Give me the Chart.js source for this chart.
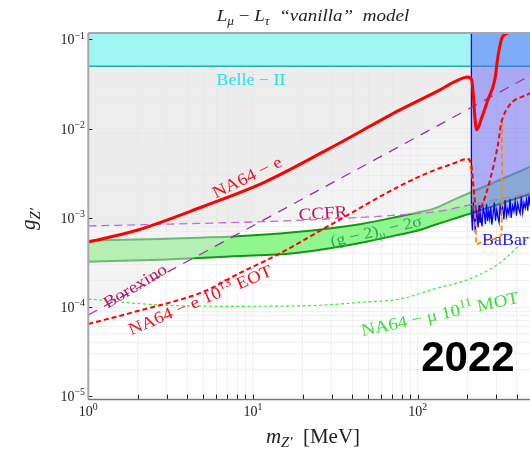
<!DOCTYPE html>
<html>
<head>
<meta charset="utf-8">
<script src="https://cdn.jsdelivr.net/npm/chart.js@4.4.0/dist/chart.umd.min.js"></script>
<style>
  html, body { margin: 0; padding: 0; background: #fff; }
  canvas { display: block; }
</style>
</head>
<body>
<canvas id="chart" width="530" height="460"></canvas>
<script>
// ---------- axis ranges and ticks ----------
const massRange = [1, 481];          // MeV
const couplingRange = [9.2e-6, 0.118];
const xMajorTicks = [1, 10, 100];
const xMajorExponents = ['0', '1', '2'];
const xMinorTicks = [2, 3, 4, 5, 6, 7, 8, 9, 20, 30, 40, 50, 60, 70, 80, 90, 200, 300, 400];
const yMajorTicks = [1e-5, 1e-4, 1e-3, 1e-2, 1e-1];
const yMajorExponents = ['\u22125', '\u22124', '\u22123', '\u22122', '\u22121'];
const yMinorTicks = [2e-5, 3e-5, 4e-5, 5e-5, 6e-5, 7e-5, 8e-5, 9e-5,
                     2e-4, 3e-4, 4e-4, 5e-4, 6e-4, 7e-4, 8e-4, 9e-4,
                     2e-3, 3e-3, 4e-3, 5e-3, 6e-3, 7e-3, 8e-3, 9e-3,
                     2e-2, 3e-2, 4e-2, 5e-2, 6e-2, 7e-2, 8e-2, 9e-2];

// ---------- limits and projections ----------
// NA64-e (solid)
const na64eMass     = [1, 2.0, 4.97, 11.8, 28.1, 78.1, 136.6, 168, 202, 212.8, 228, 244.7, 267, 294, 307, 325, 353, 390];
const na64eCoupling = [5.37e-4, 7.31e-4, 1.34e-3, 2.52e-3, 5.77e-3, 1.62e-2, 2.72e-2, 3.36e-2, 3.80e-2, 3.52e-2,
                       9.66e-3, 1.32e-2, 2.10e-2, 3.52e-2, 6.36e-2, 0.104, 0.118, 0.135];

// NA64-e 10^13 EOT projection (dashed)
const na64eEotMass     = [1, 2.0, 4.97, 8.34, 14.0, 28.1, 78.1, 118.8, 168, 199, 211, 218, 226, 232.5, 245.6, 275, 307, 325, 481];
const na64eEotCoupling = [6.47e-5, 9.04e-5, 1.48e-4, 2.41e-4, 3.84e-4, 7.91e-4, 2.28e-3, 3.27e-3, 4.12e-3, 4.57e-3,
                          4.12e-3, 2.28e-3, 1.23e-3, 1.11e-3, 1.36e-3, 2.66e-3, 6.56e-3, 1.25e-2, 2.51e-2];

// orange dashed contour near the dimuon threshold
const orangeMass     = [204.8, 216.7, 222.8, 227.6, 256.3, 307, 322.7, 325, 325];
const orangeCoupling = [4.69e-3, 2.66e-3, 1.08e-3, 4.97e-4, 5.65e-4, 5.8e-4, 6.43e-4, 1.59e-3, 1.25e-2];

// NA64-mu 10^11 MOT projection
const na64muMass     = [1, 2.61, 6.95, 19.3, 49.2, 78.1, 127.4, 207.8, 316, 418, 481];
const na64muCoupling = [1.23e-4, 1.06e-4, 1.02e-4, 1.03e-4, 1.14e-4, 1.23e-4, 1.6e-4, 2.07e-4, 3.12e-4, 4.97e-4, 6.1e-4];

// CCFR
const ccfrMass     = [1, 11.5, 29.3, 78.1, 136.6, 207.8, 481];
const ccfrCoupling = [8.11e-4, 9.06e-4, 9.72e-4, 1.08e-3, 1.19e-3, 1.40e-3, 1.90e-3];

// Borexino
const borexinoMass     = [1, 10, 100, 481];
const borexinoCoupling = [8.15e-5, 8.15e-4, 8.15e-3, 3.92e-2];

// (g-2)_mu 2 sigma band
const bandMass  = [1, 2.73, 4.77, 7.56, 17.6, 44.6, 78.1, 103, 123.8, 170, 213, 481];
const bandUpper = [5.55e-4, 5.8e-4, 6.0e-4, 6.18e-4, 6.9e-4, 8.5e-4, 1.04e-3, 1.16e-3, 1.26e-3, 1.63e-3, 1.95e-3, 3.72e-3];
const bandLower = [3.23e-4, 3.4e-4, 3.55e-4, 3.7e-4, 4.01e-4, 5.23e-4, 6.5e-4, 7.31e-4, 8.2e-4, 9.9e-4, 1.13e-3, 1.85e-3];

// Belle-II
const belleMass     = [1, 481];
const belleCoupling = [0.05, 0.05];

// BaBar
const babarMass = [212, 212, 215, 218, 221, 224, 227, 230, 233, 236, 239, 242, 246, 250, 254, 258, 262, 266, 270,
                   274, 278, 282, 287, 292, 297, 302, 307, 312, 317, 322, 328, 334, 340, 346, 352, 358, 364, 370,
                   377, 384, 391, 398, 405, 412, 419, 426, 434, 442, 450, 458, 466, 474, 482];
const babarCoupling = [0.2, 1.15e-3, 0.72e-3, 1.50e-3, 0.95e-3, 0.68e-3, 1.25e-3, 1.05e-3, 0.78e-3, 1.38e-3, 0.88e-3,
                       1.02e-3, 0.80e-3, 1.28e-3, 1.12e-3, 0.85e-3, 1.42e-3, 0.92e-3, 1.18e-3, 0.97e-3, 1.33e-3,
                       0.84e-3, 1.08e-3, 1.48e-3, 0.93e-3, 1.22e-3, 1.02e-3, 0.89e-3, 1.40e-3, 1.12e-3, 1.30e-3,
                       0.96e-3, 1.58e-3, 1.05e-3, 1.25e-3, 1.10e-3, 1.62e-3, 1.00e-3, 1.36e-3, 1.18e-3, 1.52e-3,
                       1.06e-3, 1.44e-3, 1.24e-3, 1.12e-3, 1.72e-3, 1.15e-3, 1.46e-3, 1.28e-3, 1.60e-3, 1.20e-3,
                       1.78e-3, 1.35e-3];

// ---------- text ----------
const SERIF = "'Liberation Serif','DejaVu Serif',serif";
const SANS = "'Liberation Sans','DejaVu Sans',sans-serif";
const titleParts = [
  { t: 'L', it: true }, { t: '\u03bc', it: true, sub: true }, { t: ' \u2212 ' },
  { t: 'L', it: true }, { t: '\u03c4', it: true, sub: true }, { t: '  \u201cvanilla\u201d  model', it: true }
];
const yTitleParts = [{ t: 'g', it: true }, { t: 'Z\u2032', it: true, sub: true }];
const xTitleParts = [{ t: 'm', it: true }, { t: 'Z\u2032', it: true, sub: true }, { t: '  [MeV]' }];
const yearText = '2022';

const curveLabels = [
  { parts: [{ t: 'Belle \u2212 II' }], m: 9.72, g: 0.0352, angle: 0, color: 'rgb(30,225,240)', size: 16 },
  { parts: [{ t: 'NA64 \u2212 e' }], m: 9.2, g: 2.87e-3, angle: -26, color: 'rgb(235,20,30)', size: 17 },
  { parts: [{ t: 'CCFR' }], m: 26.6, g: 1.135e-3, angle: -4, color: 'rgb(190,20,90)', size: 17 },
  { parts: [{ t: 'Borexino' }], m: 1.92, g: 1.73e-4, angle: -31, color: 'rgb(190,20,90)', size: 17 },
  { parts: [{ t: '(g \u2212 2)' }, { t: '\u03bc', sub: true }, { t: ' \u2212 2\u03c3' }], m: 55.8, g: 7.13e-4, angle: -13, color: 'rgb(40,170,80)', size: 16 },
  { parts: [{ t: 'NA64 \u2212 e 10' }, { t: '13', sup: true }, { t: ' EOT' }], m: 4.77, g: 1.2e-4, angle: -23, color: 'rgb(235,20,30)', size: 17 },
  { parts: [{ t: 'NA64 \u2212 \u03bc 10' }, { t: '11', sup: true }, { t: ' MOT' }], m: 136.6, g: 8.38e-5, angle: -12, color: 'rgb(50,225,50)', size: 17 },
  { parts: [{ t: 'BaBar' }], m: 339, g: 5.65e-4, angle: 0, color: 'rgb(30,30,240)', size: 16 }
];

// ---------- helpers ----------
const pts = (ms, gs) => ms.map((m, i) => ({ x: m, y: gs[i] }));

function drawRich(ctx, parts, x, y, o) {
  const size = o.size, fam = o.family || SERIF, sx = o.stretch || 1;
  const fontFor = p => {
    const s = (p.sub || p.sup) ? size * 0.7 : size;
    const it = (p.it !== undefined ? p.it : o.italic) ? 'italic ' : '';
    return it + (o.bold ? 'bold ' : '') + s + 'px ' + fam;
  };
  let w = 0;
  for (const p of parts) { ctx.font = fontFor(p); w += ctx.measureText(p.t).width; }
  ctx.save();
  ctx.translate(x, y);
  if (o.angle) ctx.rotate(o.angle * Math.PI / 180);
  ctx.scale(sx, 1);
  ctx.fillStyle = o.color || '#000';
  ctx.textBaseline = 'alphabetic';
  ctx.textAlign = 'left';
  let cx = o.align === 'right' ? -w : (o.align === 'left' ? 0 : -w / 2);
  const base = o.middle ? size * 0.33 : 0;
  for (const p of parts) {
    ctx.font = fontFor(p);
    const dy = p.sup ? -size * 0.42 : (p.sub ? size * 0.22 : 0);
    ctx.fillText(p.t, cx, base + dy);
    cx += ctx.measureText(p.t).width;
  }
  ctx.restore();
}

// ---------- datasets ----------
const datasets = [];
function add(d) {
  datasets.push(Object.assign({
    showLine: true, pointRadius: 0, pointHoverRadius: 0, borderWidth: 0,
    borderColor: 'rgba(0,0,0,0)', fill: false, clip: 0, tension: 0
  }, d));
  return datasets.length - 1;
}

// (g-2) band: edges and green fill, underneath the excluded regions
const iBandLow = add({ data: pts(bandMass, bandLower), borderColor: 'rgb(20,150,20)', borderWidth: 2,
                       cubicInterpolationMode: 'monotone', order: 99 });
add({ data: pts(bandMass, bandUpper), borderColor: 'rgb(20,150,20)', borderWidth: 2,
      backgroundColor: 'rgb(144,246,144)', fill: { target: iBandLow },
      cubicInterpolationMode: 'monotone', order: 100 });

// excluded regions (translucent grey)
add({ data: pts(ccfrMass, ccfrCoupling), backgroundColor: 'rgba(230,230,230,0.44)', fill: 'end',
      cubicInterpolationMode: 'monotone', order: 90 });
add({ data: pts(borexinoMass, borexinoCoupling), backgroundColor: 'rgba(230,230,230,0.44)', fill: 'end', order: 89 });

// Belle-II
add({ data: pts(belleMass, belleCoupling), backgroundColor: 'rgb(160,245,243)', borderColor: 'rgb(32,178,170)',
      borderWidth: 1.5, fill: 'end', order: 80 });

// BaBar
add({ data: pts(babarMass, babarCoupling), backgroundColor: 'rgba(85,85,250,0.45)', borderColor: 'rgb(0,0,255)',
      borderWidth: 1.3, fill: 'end', order: 70 });

// limit lines
add({ data: pts(ccfrMass, ccfrCoupling), borderColor: 'rgb(204,102,221)', borderWidth: 1.3, borderDash: [8, 5],
      cubicInterpolationMode: 'monotone', order: 50 });
add({ data: pts(borexinoMass, borexinoCoupling), borderColor: 'rgb(150,50,170)', borderWidth: 1.3, borderDash: [10, 8], order: 49 });
add({ data: pts(na64muMass, na64muCoupling), borderColor: 'rgb(51,238,51)', borderWidth: 1.2, borderDash: [3, 2.5],
      cubicInterpolationMode: 'monotone', order: 40 });
add({ data: pts(orangeMass, orangeCoupling), borderColor: 'rgb(255,140,0)', borderWidth: 2, borderDash: [5, 3], order: 35 });
add({ data: pts(na64eEotMass, na64eEotCoupling), borderColor: 'rgb(255,0,0)', borderWidth: 2, borderDash: [5, 3],
      cubicInterpolationMode: 'monotone', order: 30 });
add({ data: pts(na64eMass, na64eCoupling), borderColor: 'rgb(255,0,0)', borderWidth: 3,
      cubicInterpolationMode: 'monotone', order: 20 });

// ---------- decorations: axes, ticks, text ----------
const decor = {
  id: 'decor',
  afterDatasetsDraw(chart) {
    const { ctx, chartArea: a, scales: { x, y } } = chart;
    ctx.save();
    // tick marks pointing inward
    ctx.strokeStyle = '#222';
    ctx.lineWidth = 1;
    ctx.beginPath();
    for (const v of xMajorTicks.concat(xMinorTicks)) {
      const px = Math.round(x.getPixelForValue(v)) + 0.5;
      ctx.moveTo(px, a.bottom); ctx.lineTo(px, a.bottom - 5);
    }
    for (const v of yMajorTicks) {
      const py = Math.round(y.getPixelForValue(v)) + 0.5;
      ctx.moveTo(a.left, py); ctx.lineTo(a.left + 4, py);
    }
    ctx.stroke();
    // frame
    ctx.strokeStyle = '#a8a8a8';
    ctx.lineWidth = 2;
    ctx.beginPath();
    ctx.moveTo(a.left, a.top); ctx.lineTo(a.right, a.top);
    ctx.moveTo(a.left, a.top); ctx.lineTo(a.left, a.bottom);
    ctx.stroke();
    ctx.strokeStyle = '#777';
    ctx.lineWidth = 1.5;
    ctx.beginPath();
    ctx.moveTo(a.left, a.bottom); ctx.lineTo(a.right, a.bottom);
    ctx.stroke();

    // curve labels
    for (const l of curveLabels) {
      drawRich(ctx, l.parts, x.getPixelForValue(l.m), y.getPixelForValue(l.g),
               { size: l.size, angle: l.angle, color: l.color, middle: true, stretch: 1.12 });
    }
    // year
    drawRich(ctx, [{ t: yearText }], x.getPixelForValue(202), y.getPixelForValue(2.76e-5),
             { size: 42, bold: true, family: SANS, middle: true, color: '#000' });
    ctx.restore();
  },
  afterDraw(chart) {
    const { ctx, scales: { x, y } } = chart;
    ctx.save();
    // tick labels
    yMajorTicks.forEach((v, i) => {
      drawRich(ctx, [{ t: '10' }, { t: yMajorExponents[i], sup: true }], 85, y.getPixelForValue(v) + 5,
               { size: 14, align: 'right', color: '#222' });
    });
    xMajorTicks.forEach((v, i) => {
      drawRich(ctx, [{ t: '10' }, { t: xMajorExponents[i], sup: true }], x.getPixelForValue(v), 416,
               { size: 14, align: 'center', color: '#222' });
    });
    // titles
    drawRich(ctx, titleParts, 313, 21, { size: 17, stretch: 1.12, color: '#222' });
    drawRich(ctx, xTitleParts, 313, 443, { size: 20, stretch: 1.05, color: '#222' });
    drawRich(ctx, yTitleParts, 35, 219, { size: 21, angle: -90, color: '#222' });
    ctx.restore();
  }
};

new Chart(document.getElementById('chart'), {
  type: 'scatter',
  data: { datasets },
  options: {
    responsive: false,
    animation: false,
    events: [],
    layout: { padding: { top: 33, left: 0, right: 0, bottom: 0 } },
    plugins: { legend: { display: false }, tooltip: { enabled: false }, title: { display: false } },
    scales: {
      x: {
        type: 'logarithmic', position: 'bottom', min: massRange[0], max: massRange[1],
        grid: { color: 'rgba(0,0,0,0.055)', drawTicks: false },
        border: { display: false },
        ticks: { display: false },
        afterBuildTicks: s => { s.ticks = xMajorTicks.concat(xMinorTicks).sort((p, q) => p - q).map(v => ({ value: v })); },
        afterFit: s => { s.height = 60.5; }
      },
      y: {
        type: 'logarithmic', position: 'left', min: couplingRange[0], max: couplingRange[1],
        grid: { color: 'rgba(0,0,0,0.055)', drawTicks: false },
        border: { display: false },
        ticks: { display: false },
        afterBuildTicks: s => { s.ticks = yMajorTicks.concat(yMinorTicks).sort((p, q) => p - q).map(v => ({ value: v })); },
        afterFit: s => { s.width = 88.3; }
      }
    }
  },
  plugins: [decor]
});
</script>
</body>
</html>
